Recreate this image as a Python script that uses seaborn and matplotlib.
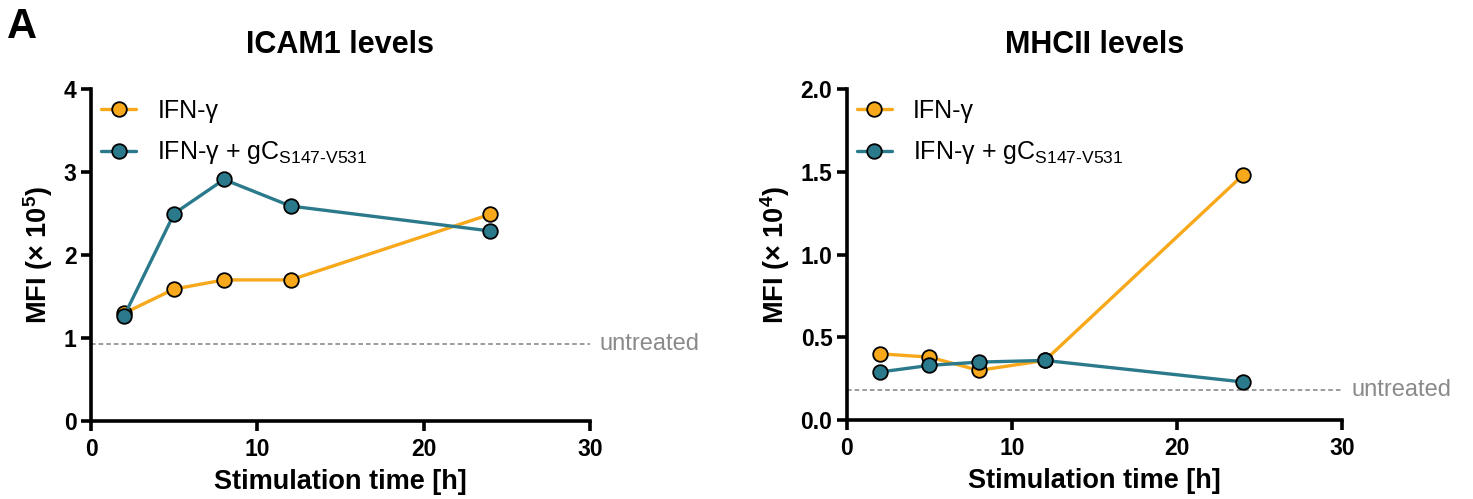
import numpy as np
import pandas as pd
import seaborn as sns
import matplotlib
matplotlib.use("Agg")
import matplotlib.pyplot as plt
from matplotlib.lines import Line2D

time_h = [2, 5, 8, 12, 24]
series_names = ["IFN-γ", "IFN-γ + gC$_{\\mathregular{S147\\text{-}V531}}$"]
icam1_ifn = [1.30, 1.59, 1.70, 1.70, 2.49]
icam1_combo = [1.27, 2.50, 2.91, 2.59, 2.29]
icam1_untreated = 0.93
mhcii_ifn = [0.40, 0.38, 0.30, 0.36, 1.48]
mhcii_combo = [0.29, 0.33, 0.35, 0.36, 0.23]
mhcii_untreated = 0.18

colors = ["#F7A81B", "#2A7A8C"]

sns.set_theme(style="ticks")
plt.rcParams['font.family'] = ['Liberation Sans', 'DejaVu Sans']
plt.rcParams['mathtext.fontset'] = 'custom'
plt.rcParams['mathtext.rm'] = 'Liberation Sans'
plt.rcParams['mathtext.bf'] = 'Liberation Sans:bold'
for k in ['text.color', 'axes.labelcolor', 'xtick.color', 'ytick.color', 'axes.edgecolor']:
    plt.rcParams[k] = 'black'

fig = plt.figure(figsize=(14.73, 4.99), dpi=100)
ax1 = fig.add_axes([0.0618, 0.1563, 0.3387, 0.6653])
ax2 = fig.add_axes([0.575, 0.1583, 0.336, 0.6633])

panels = [
    (ax1, icam1_ifn, icam1_combo, icam1_untreated, "ICAM1 levels", "MFI (× 10$^{\\mathbf{5}}$)", (0, 4), [0, 1, 2, 3, 4], ["0", "1", "2", "3", "4"]),
    (ax2, mhcii_ifn, mhcii_combo, mhcii_untreated, "MHCII levels", "MFI (× 10$^{\\mathbf{4}}$)", (0, 2.0), [0, 0.5, 1.0, 1.5, 2.0], ["0.0", "0.5", "1.0", "1.5", "2.0"]),
]

for ax, a, b, untr, title, ylab, ylim, yt, ytl in panels:
    df = pd.DataFrame({
        "time": time_h * 2,
        "value": a + b,
        "group": [series_names[0]] * len(time_h) + [series_names[1]] * len(time_h),
    })
    sns.lineplot(data=df, x="time", y="value", hue="group", palette=colors,
                 marker="o", markersize=10.5, markeredgecolor="black", markeredgewidth=1.3,
                 linewidth=2.4, ax=ax, legend=False)
    ax.axhline(untr, color="#808080", linestyle=(0, (3, 2)), linewidth=1.1, zorder=0)
    ax.set_xlim(0, 30)
    ax.set_ylim(*ylim)
    ax.set_xticks([0, 10, 20, 30])
    ax.set_xticklabels(["0", "10", "20", "30"])
    ax.set_yticks(yt)
    ax.set_yticklabels(ytl)
    for s in ["top", "right"]:
        ax.spines[s].set_visible(False)
    for s in ["left", "bottom"]:
        ax.spines[s].set_linewidth(2.6)
        ax.spines[s].set_color("black")
    ax.tick_params(width=2.6, length=7, labelsize=16.5, direction="out", colors="black")
    ax.tick_params(axis="x", pad=5)
    for lbl in ax.get_xticklabels() + ax.get_yticklabels():
        lbl.set_fontweight("bold")
    ax.set_xlabel("Stimulation time [h]", fontsize=19.5, fontweight="bold", labelpad=6)
    ax.set_ylabel(ylab, fontsize=19.5, fontweight="bold", labelpad=6)
    ax.set_title(title, fontsize=22, fontweight="bold", pad=26)
    ax.text(1.02, untr, "untreated", transform=ax.get_yaxis_transform(), color="#8a8a8a",
            fontsize=17, va="center", ha="left")
    handles = [Line2D([0], [0], color=c, marker="o", markersize=10.5, markeredgecolor="black",
                      markeredgewidth=1.3, linewidth=2.4) for c in colors]
    ax.legend(handles, series_names, loc="upper left", bbox_to_anchor=(0.0, 1.0), borderaxespad=0,
              frameon=False, fontsize=18, handlelength=1.4, handletextpad=0.85, labelspacing=0.65)

fig.text(0.005, 0.905, "A", fontsize=30, fontweight="bold", ha="left", va="bottom")

fig.savefig("out.png", dpi=100)
